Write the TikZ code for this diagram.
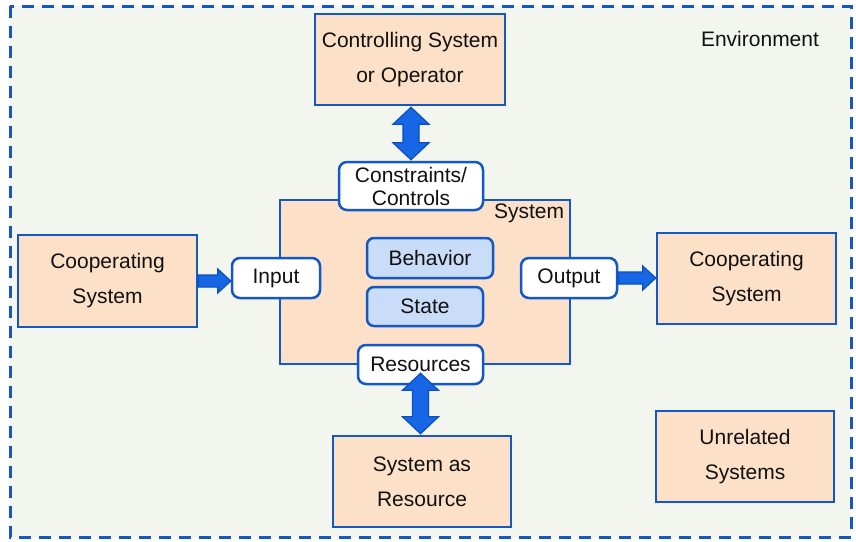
\documentclass[tikz,border=0pt]{standalone}
\usepackage{fontspec}
\setmainfont{Liberation Sans}
\usetikzlibrary{calc}
\definecolor{envbg}{HTML}{F3F6EE}
\definecolor{peach}{HTML}{FCE1C8}
\definecolor{edge}{HTML}{1457C6}
\definecolor{lightblue}{HTML}{C9DCF8}
\definecolor{arrowfill}{HTML}{1766E6}
\definecolor{arrowedge}{HTML}{0B4FC0}
\definecolor{ink}{HTML}{111111}
\tikzset{
  txt/.style={font=\fontsize{21pt}{35pt}\selectfont, text=ink, align=center, inner sep=0pt},
  sysbox/.style={txt, draw=edge, line width=2.5pt, fill=peach, minimum width=#1},
  port/.style={txt, draw=edge, line width=2.5pt, fill=white, rounded corners=8pt, minimum height=40pt},
  part/.style={txt, draw=edge, line width=2.5pt, fill=lightblue, rounded corners=7pt},
  blockarrow/.style={draw=arrowedge, fill=arrowfill, line width=1.2pt, line join=miter},
}
% vertical two-headed block arrow from #1 (upper end) to #2 (lower end)
\newcommand\vblockarrow[2]{%
  \path[blockarrow] let \p1=(#1), \p2=(#2) in
    (\x1,\y1) -- (\x1+18pt,\y1-17pt) -- (\x1+8pt,\y1-17pt) -- (\x1+8pt,\y2+17pt)
    -- (\x1+18pt,\y2+17pt) -- (\x1,\y2) -- (\x1-18pt,\y2+17pt) -- (\x1-8pt,\y2+17pt)
    -- (\x1-8pt,\y1-17pt) -- (\x1-18pt,\y1-17pt) -- cycle;}
% horizontal one-headed block arrow from #1 (tail) to #2 (tip)
\newcommand\hblockarrow[2]{%
  \path[blockarrow] let \p1=(#1), \p2=(#2) in
    (\x1,\y1+6pt) -- (\x2-13pt,\y1+6pt) -- (\x2-13pt,\y1+12pt) -- (\x2,\y1)
    -- (\x2-13pt,\y1-12pt) -- (\x2-13pt,\y1-6pt) -- (\x1,\y1-6pt) -- cycle;}
\begin{document}
\begin{tikzpicture}[x=1pt,y=-1pt]
\useasboundingbox (0,0) rectangle (856,541);
% environment frame
\draw[edge, line width=3pt, dash pattern=on 12pt off 8pt, fill=envbg] (10,6) rectangle (851,537);
\node[txt] (envlabel) at (760,39) {Environment};

% the system and its interfaces
\node[sysbox=290pt, minimum height=164pt] (sys) at (425,282) {};
\node[txt] (syslabel) at (529,213) {System};
\node[part, minimum width=126pt, minimum height=40pt] (beh) at (430,258) {Behavior};
\node[part, minimum width=116pt, minimum height=39pt] (state) at (425,306.5) {State};
\node[port, minimum width=144pt, minimum height=48pt, font=\fontsize{21pt}{23pt}\selectfont] (cons) at (411,186) {Constraints/\\Controls};
\node[port, minimum width=88pt] (inp) at (276,278) {Input};
\node[port, minimum width=96pt] (outp) at (569,278) {Output};
\node[port, minimum width=125pt, minimum height=39pt] (res) at (420.5,364.5) {Resources};

% surrounding systems
\node[sysbox=190pt, minimum height=91pt] (ctrl) at (410,59.5) {Controlling System\\or Operator};
\node[sysbox=179pt, minimum height=92pt] (coopL) at (107.5,281) {Cooperating\\System};
\node[sysbox=179pt, minimum height=91pt] (coopR) at (746.5,278.5) {Cooperating\\System};
\node[sysbox=178pt, minimum height=91pt] (sysres) at (422,481.5) {System as\\Resource};
\node[sysbox=178pt, minimum height=91pt] (unrel) at (745,456.5) {Unrelated\\Systems};

% block arrows between the boxes
\coordinate (ctrlBot) at ($(ctrl.south)+(1,1)$);
\coordinate (consTop) at ($(cons.north)+(0,-1)$);
\coordinate (resTop) at ($(res.south)+(0,-12)$);
\coordinate (sysresTop) at ($(sysres.north)+(0,-1)$);
\vblockarrow{ctrlBot}{consTop}
\vblockarrow{resTop}{sysresTop}
\hblockarrow{coopL.east}{inp.west}
\hblockarrow{outp.east}{coopR.west}
\end{tikzpicture}
\end{document}
